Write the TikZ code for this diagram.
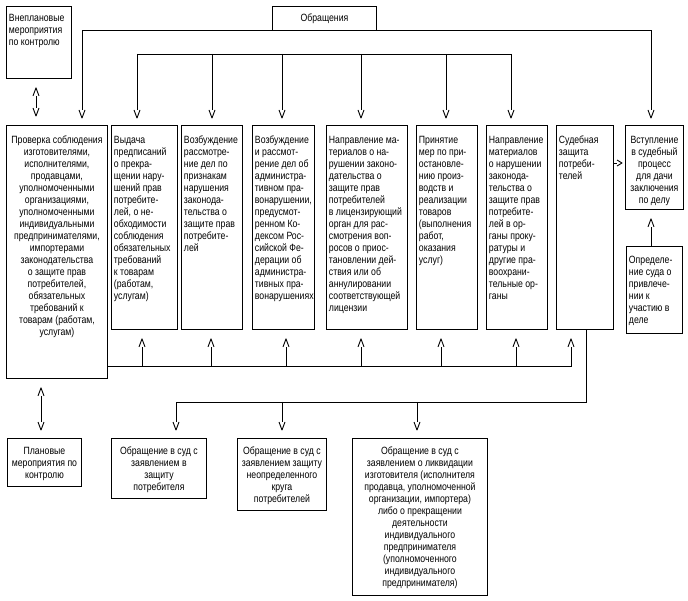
\documentclass[tikz,border=0pt]{standalone}
\usepackage{fontspec}
\setmainfont[FakeStretch=0.83]{Liberation Sans}
\usetikzlibrary{arrows.meta}

\pgfdeclarearrow{
  name = Chev,
  parameters = {\the\pgfarrowlength,\the\pgfarrowwidth},
  setup code = {
    \pgfarrowssettipend{0pt}
    \pgfarrowssetbackend{-\pgfarrowlength}
    \pgfarrowssetlineend{-\pgfarrowlength}
    \pgfarrowssavethe\pgfarrowlength
    \pgfarrowssavethe\pgfarrowwidth
  },
  drawing code = {
    \pgfsetdash{}{0pt}
    \pgfsetroundjoin
    \pgfpathmoveto{\pgfqpoint{-\pgfarrowlength}{0.5\pgfarrowwidth}}
    \pgfpathlineto{\pgfqpoint{0pt}{0pt}}
    \pgfpathlineto{\pgfqpoint{-\pgfarrowlength}{-0.5\pgfarrowwidth}}
    \pgfusepathqstroke
  },
  defaults = {length = 8pt, width = 6pt}
}

\tikzset{
  bx/.style={draw, line width=0.9pt, inner xsep=2.5pt, inner ysep=0pt,
    anchor=north west, font=\fontsize{10.5}{12}\selectfont},
  ln/.style={line width=0.9pt},
  arr/.style={ln, -{Chev}},
  dbl/.style={ln, {Chev}-{Chev}},
}

% #1 name, #2 x, #3 y, #4 w, #5 h, #6 l/c, #7 first baseline, #8 text
\newcommand\bxnode[8]{%
  \node[bx] (#1) at (#2,#3) {\begin{minipage}[t][#5pt][t]{\dimexpr #4pt-5pt\relax}%
    \if#6c\centering\fi\rule{0pt}{#7pt}\begin{tabular}[t]{@{}#6@{}}#8\end{tabular}\end{minipage}};}

\begin{document}
\begin{tikzpicture}[x=1pt,y=-1pt]
\useasboundingbox (0,0) rectangle (688,601);

\bxnode{vnep}{6}{6}{65}{72}{l}{15}{Внеплановые\\мероприятия\\по контролю}
\bxnode{obr}{272}{6}{104}{24}{c}{15}{Обращения}

\bxnode{prov}{6}{125}{101}{253}{c}{18}{Проверка соблюдения\\изготовителями,\\исполнителями,\\продавцами,\\уполномоченными\\организациями,\\уполномоченными\\индивидуальными\\предпринимателями,\\импортерами\\законодательства\\о защите прав\\потребителей,\\обязательных\\требований к\\товарам (работам,\\услугам)}
\bxnode{vyd}{111}{125}{66}{204}{l}{18}{Выдача\\предписаний\\о прекра-\\щении нару-\\шений прав\\потребите-\\лей, о не-\\обходимости\\соблюдения\\обязательных\\требований\\к товарам\\(работам,\\услугам)}
\bxnode{voz1}{181}{125}{61}{204}{l}{18}{Возбуждение\\рассмотре-\\ние дел по\\признакам\\нарушения\\законода-\\тельства о\\защите прав\\потребите-\\лей}
\bxnode{voz2}{252}{125}{62}{204}{l}{18}{Возбуждение\\и рассмот-\\рение дел об\\администра-\\тивном пра-\\вонарушении,\\предусмот-\\ренном Ко-\\дексом Рос-\\сийской Фе-\\дерации об\\администра-\\тивных пра-\\вонарушениях}
\bxnode{napr1}{326}{125}{81}{204}{l}{18}{Направление ма-\\териалов о на-\\рушении законо-\\дательства о\\защите прав\\потребителей\\в лицензирующий\\орган для рас-\\смотрения воп-\\росов о приос-\\тановлении дей-\\ствия или об\\аннулировании\\соответствующей\\лицензии}
\bxnode{prin}{416}{125}{61}{204}{l}{18}{Принятие\\мер по при-\\остановле-\\нию произ-\\водств и\\реализации\\товаров\\(выполнения\\работ,\\оказания\\услуг)}
\bxnode{napr2}{486}{125}{61}{204}{l}{18}{Направление\\материалов\\о нарушении\\законода-\\тельства о\\защите прав\\потребите-\\лей в ор-\\ганы проку-\\ратуры и\\другие пра-\\воохрани-\\тельные ор-\\ганы}
\bxnode{sud}{556}{125}{57}{204}{l}{18}{Судебная\\защита\\потреби-\\телей}
\bxnode{vst}{625}{125}{58}{84}{c}{18}{Вступление\\в судебный\\процесс\\для дачи\\заключения\\по делу}
\bxnode{opr}{626}{246}{56}{87}{l}{17}{Определе-\\ние суда о\\привлече-\\нии к\\участию в\\деле}

\bxnode{plan}{7}{438}{74}{48}{c}{16}{Плановые\\мероприятия по\\контролю}
\bxnode{sud1}{111}{438}{95}{60}{c}{16}{Обращение в суд с\\заявлением в\\защиту\\потребителя}
\bxnode{sud2}{237}{438}{89}{72}{c}{16}{Обращение в суд с\\заявлением защиту\\неопределенного\\круга\\потребителей}
\bxnode{sud3}{352}{438}{135}{157}{c}{16}{Обращение в суд с\\заявлением о ликвидации\\изготовителя (исполнителя\\продавца, уполномоченной\\организации, импортера)\\либо о прекращении\\деятельности\\индивидуального\\предпринимателя\\(уполномоченного\\индивидуального\\предпринимателя)}

\coordinate (busA) at (0,54);
\coordinate (busB) at (0,366);
\coordinate (busC) at (0,402);
\coordinate (yS) at (0,163);

% from Obrashcheniya
\coordinate (t1) at ([xshift=76pt]prov.north west);
\coordinate (t2) at ([xshift=26pt]vst.north west);
\draw[arr, shorten >=7pt] (obr.south) -| (t1);
\draw[arr, shorten >=7pt] (obr.south) -| (t2);

% upper distribution line
\coordinate (a1) at ([xshift=26pt]vyd.north west);
\coordinate (a2) at ([xshift=31pt]voz1.north west);
\coordinate (a3) at ([xshift=30pt]voz2.north west);
\coordinate (a4) at ([xshift=35pt]napr1.north west);
\coordinate (a5) at ([xshift=30pt]prin.north west);
\coordinate (a6) at ([xshift=25pt]napr2.north west);
\draw[ln] (a1 |- busA) -- (a6 |- busA);
\foreach \c in {a1,a2,a3,a4,a5,a6}
  \draw[arr, shorten >=7pt] (\c |- busA) -- (\c);

% lower collecting line
\coordinate (b1) at ([xshift=31pt]vyd.south west);
\coordinate (b2) at ([xshift=30pt]voz1.south west);
\coordinate (b3) at ([xshift=34pt]voz2.south west);
\coordinate (b4) at ([xshift=35pt]napr1.south west);
\coordinate (b5) at ([xshift=25pt]prin.south west);
\coordinate (b6) at ([xshift=30pt]napr2.south west);
\coordinate (b7) at ([xshift=15pt]sud.south west);
\draw[arr, shorten >=9pt] (prov.east |- busB) -| (b7);
\foreach \c in {b1,b2,b3,b4,b5,b6}
  \draw[arr, shorten >=9pt] (\c |- busB) -- (\c);

% court branch
\coordinate (c0) at ([xshift=30pt]sud.south west);
\coordinate (c1) at ([xshift=65pt]sud1.north west);
\coordinate (c2) at ([xshift=45pt]sud2.north west);
\coordinate (c3) at ([xshift=65pt]sud3.north west);
\draw[arr, shorten >=8pt] (c0) |- (c1 |- busC) -- (c1);
\draw[arr, shorten >=8pt] (c2 |- busC) -- (c2);
\draw[arr, shorten >=8pt] (c3 |- busC) -- (c3);

% double arrows
\coordinate (v1) at ([xshift=30pt]vnep.south west);
\coordinate (v2) at ([xshift=30pt]prov.north west);
\draw[dbl, shorten <=9pt, shorten >=9pt] (v1) -- (v2);
\coordinate (p1) at ([xshift=35pt]prov.south west);
\coordinate (p2) at ([xshift=34pt]plan.north west);
\draw[dbl, shorten <=9pt, shorten >=8pt] (p1) -- (p2);

% right side
\draw[ln, -{Chev[length=5pt]}, shorten >=3pt] (sud.east |- yS) -- (vst.west |- yS);
\coordinate (o1) at ([xshift=25pt]opr.north west);
\draw[arr, shorten >=9pt] (o1) -- (o1 |- vst.south);
\end{tikzpicture}
\end{document}
